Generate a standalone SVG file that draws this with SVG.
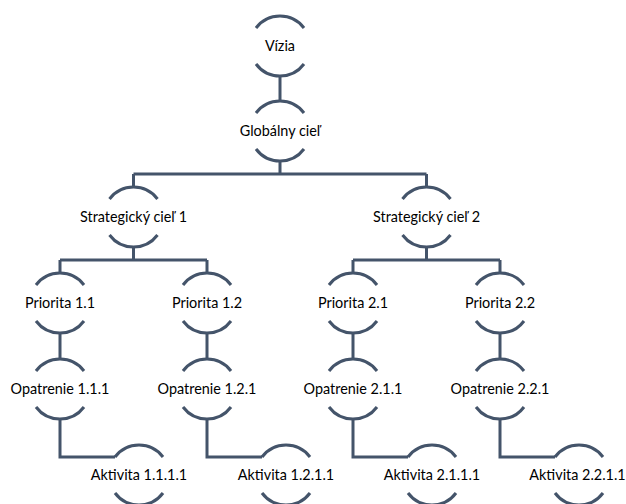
<svg xmlns="http://www.w3.org/2000/svg" width="626" height="504" viewBox="0 0 626 504">
<style>
.arc{fill:none;stroke:#44546A;stroke-width:3}
.con path{fill:none;stroke:#44546A;stroke-width:3}
text{font-family:Lato,"Liberation Sans",sans-serif;font-size:14.4px;fill:#000;text-anchor:middle}
</style>
<defs>
<path id="br" class="arc" d="M-24,-18 A30,30 0 0 1 24,-18 M-24,18 A30,30 0 0 0 24,18"/>
</defs>
<g id="connectors" class="con">
<path d="M280,76 V101"/>
<path d="M280,161 V174 M133.5,174 H426.5 M133.5,174 V187 M426.5,174 V187"/>
<path d="M133.5,247 V260 M60,260 H207 M60,260 V273 M207,260 V273"/>
<path d="M426.5,247 V260 M353,260 H500 M353,260 V273 M500,260 V273"/>
<path d="M60,333 V359 M207,333 V359 M353,333 V359 M500,333 V359"/>
<path d="M60,419 V457 H115 M207,419 V457 H262 M353,419 V457 H408 M500,419 V457 H555"/>
</g>
<g id="n-vizia"><use href="#br" x="280" y="46"/><text x="280" y="51">Vízia</text></g>
<g id="n-global"><use href="#br" x="280" y="131"/><text x="280" y="136">Globálny cieľ</text></g>
<g id="n-s1"><use href="#br" x="133.5" y="217"/><text x="133.5" y="222">Strategický cieľ 1</text></g>
<g id="n-s2"><use href="#br" x="426.5" y="217"/><text x="426.5" y="222">Strategický cieľ 2</text></g>
<g id="n-p11"><use href="#br" x="60" y="303"/><text x="60" y="308">Priorita 1.1</text></g>
<g id="n-p12"><use href="#br" x="207" y="303"/><text x="207" y="308">Priorita 1.2</text></g>
<g id="n-p21"><use href="#br" x="353" y="303"/><text x="353" y="308">Priorita 2.1</text></g>
<g id="n-p22"><use href="#br" x="500" y="303"/><text x="500" y="308">Priorita 2.2</text></g>
<g id="n-o111"><use href="#br" x="60" y="389"/><text x="60" y="394">Opatrenie 1.1.1</text></g>
<g id="n-o121"><use href="#br" x="207" y="389"/><text x="207" y="394">Opatrenie 1.2.1</text></g>
<g id="n-o211"><use href="#br" x="353" y="389"/><text x="353" y="394">Opatrenie 2.1.1</text></g>
<g id="n-o221"><use href="#br" x="500" y="389"/><text x="500" y="394">Opatrenie 2.2.1</text></g>
<g id="n-a1111"><use href="#br" x="139" y="475"/><text x="139" y="480">Aktivita 1.1.1.1</text></g>
<g id="n-a1211"><use href="#br" x="286" y="475"/><text x="286" y="480">Aktivita 1.2.1.1</text></g>
<g id="n-a2111"><use href="#br" x="432" y="475"/><text x="432" y="480">Aktivita 2.1.1.1</text></g>
<g id="n-a2211"><use href="#br" x="579" y="475"/><text x="577.5" y="480">Aktivita 2.2.1.1</text></g>
</svg>
